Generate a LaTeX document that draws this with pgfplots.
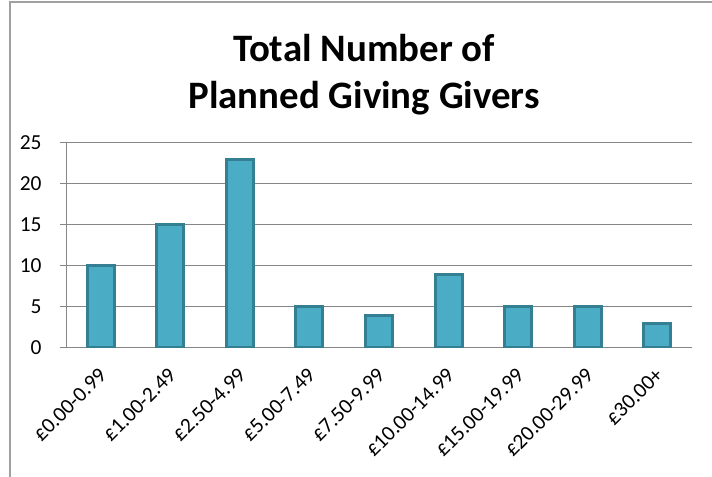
\documentclass[border=0pt]{standalone}
\usepackage{fontspec}
\setmainfont{Carlito}
\usepackage{pgfplots}
\pgfplotsset{compat=1.18}
\definecolor{barfill}{HTML}{4BACC6}
\definecolor{baredge}{HTML}{357F93}
\definecolor{axisgray}{HTML}{868686}
\definecolor{framegray}{HTML}{A0A0A0}

\begin{document}
\begin{tikzpicture}[x=1bp,y=1bp]
  \path[use as bounding box] (0,0) rectangle (712,477);
  % chart frame edges visible in the screenshot
  \draw[framegray, line width=1.5bp] (10,0) -- (10,475) -- (712,475);

  \node[anchor=base, font=\fontsize{39}{44}\selectfont\bfseries] at (364,415) {Total Number of};
  \node[anchor=base, font=\fontsize{39}{44}\selectfont\bfseries] at (364,368) {Planned Giving Givers};

  \begin{axis}[
      at={(66bp,129bp)}, anchor=south west,
      scale only axis,
      width=626bp, height=205bp,
      ybar, bar width=27bp,
      xmin=-0.5, xmax=8.5,
      ymin=0, ymax=25,
      ytick={0,5,...,25},
      xtick={0,...,8},
      xticklabels={£0.00-0.99,£1.00-2.49,£2.50-4.99,£5.00-7.49,£7.50-9.99,£10.00-14.99,£15.00-19.99,£20.00-29.99,£30.00+},
      major x tick style={draw=none},
      extra x ticks={-0.5,0.5,...,8.5},
      extra x tick labels={},
      extra x tick style={major tick style={draw=axisgray, line width=1bp}, major tick length=6bp},
      axis x line*=bottom, axis y line*=left,
      axis line style={draw=axisgray, line width=1bp, -},
      ymajorgrids, grid style={draw=axisgray, line width=1bp},
      tick align=outside, major tick length=6bp,
      ytick style={draw=axisgray, line width=1bp},
      xticklabel style={font=\fontsize{21.5}{26}\selectfont, xshift=-3bp, yshift=-11bp, rotate=45, anchor=north east, inner sep=1bp},
      yticklabel style={font=\fontsize{21.5}{26}\selectfont, xshift=-15bp},
      /pgf/number format/assume math mode=true,
    ]
    \addplot[fill=barfill, draw=baredge, line width=3bp] coordinates {
      (0,10) (1,15) (2,23) (3,5) (4,4) (5,9) (6,5) (7,5) (8,3)
    };
  \end{axis}
\end{tikzpicture}
\end{document}
